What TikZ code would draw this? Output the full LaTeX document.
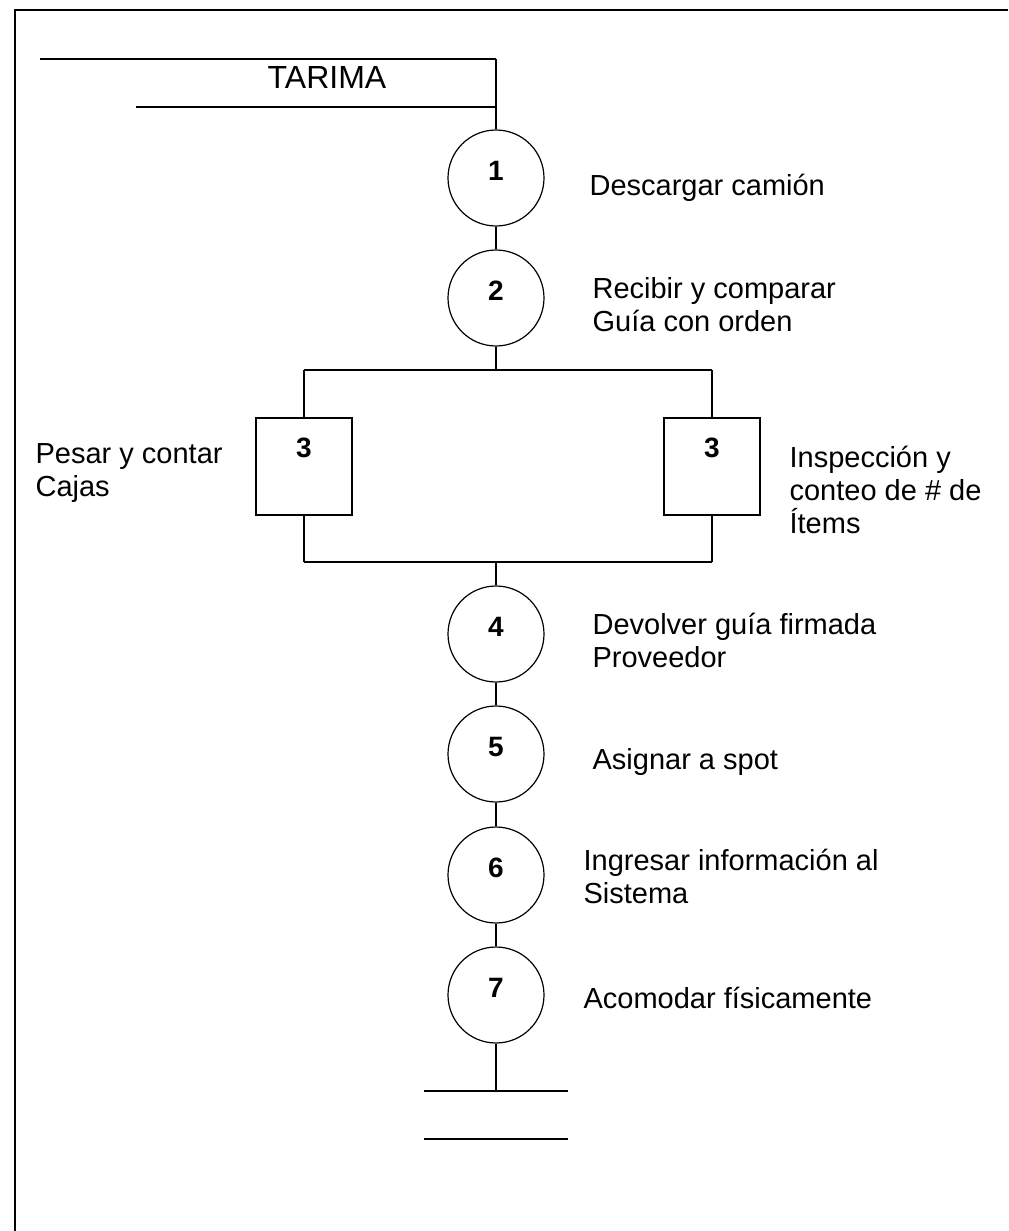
\documentclass[tikz,border=0pt]{standalone}
\usepackage{fontspec}
\setmainfont{Liberation Sans}

\begin{document}
\begin{tikzpicture}[x=0.5pt, y=-0.5pt, line width=0.6pt,
    paso/.style={draw, circle, minimum size=48pt, inner sep=0pt,
        font=\fontsize{14}{16}\selectfont\bfseries, text height=10pt, text depth=7.5pt},
    revision/.style={draw, rectangle, minimum width=48pt, minimum height=48.5pt, inner sep=0pt,
        font=\fontsize{14}{16}\selectfont\bfseries, text height=10pt, text depth=19.5pt},
    texto/.style={anchor=base west, inner sep=0pt, align=left,
        font=\fontsize{14.5}{16.5}\selectfont}]
                \useasboundingbox (0,0) rectangle (1008,1231);
                % Marco de la hoja
                \draw[line width=0.9pt] (15,1231) -- (15,10) -- (1008,10);

                % Tarima de entrada
                \coordinate (tarimaA) at (40,59);
                \coordinate (tarimaB) at (496,59);
                \coordinate (tarimaC) at (136,107);
                \coordinate (tarimaD) at (496,107);
                \node[font=\fontsize{16}{19}\selectfont] (tarima) at (327,77) {TARIMA};
                \draw (tarimaA) -- (tarimaB);
                \draw (tarimaC) -- (tarimaD);

                % Pasos del proceso
                \node[paso] (paso1) at (496,178) {1};
                \node[paso] (paso2) at (496,298) {2};
                \node[revision] (pesar) at (304,466.5) {3};
                \node[revision] (inspec) at (712,466.5) {3};
                \node[paso] (paso4) at (496,634) {4};
                \node[paso] (paso5) at (496,754) {5};
                \node[paso] (paso6) at (496,875) {6};
                \node[paso] (paso7) at (496,995) {7};

                % Bifurcacion y union
                \coordinate (split) at (496,370);
                \coordinate (splitL) at (304,370);
                \coordinate (splitR) at (712,370);
                \coordinate (join) at (496,562);
                \coordinate (joinL) at (304,562);
                \coordinate (joinR) at (712,562);

                % Almacen de salida
                \coordinate (almacen) at (496,1091);
                \coordinate (almacenA) at (424,1091);
                \coordinate (almacenB) at (568,1091);
                \coordinate (almacenC) at (424,1139);
                \coordinate (almacenD) at (568,1139);

                \draw (tarimaB) -- (paso1);
                \draw (paso1) -- (paso2);
                \draw (paso2) -- (split);
                \draw (splitL) -- (splitR);
                \draw (splitL) -- (pesar);
                \draw (splitR) -- (inspec);
                \draw (pesar) -- (joinL);
                \draw (inspec) -- (joinR);
                \draw (joinL) -- (joinR);
                \draw (join) -- (paso4);
                \draw (paso4) -- (paso5);
                \draw (paso5) -- (paso6);
                \draw (paso6) -- (paso7);
                \draw (paso7) -- (almacen);
                \draw (almacenA) -- (almacenB);
                \draw (almacenC) -- (almacenD);

                % Descripciones (base = ultima linea)
                \node[texto] (txt1) at (589,195) {Descargar camión};
                \node[texto] (txt2) at (592,331) {Recibir y comparar\\Guía con orden};
                \node[texto] (txt3a) at (35,496) {Pesar y contar\\Cajas};
                \node[texto] (txt3b) at (789,533) {Inspección y\\conteo de \# de\\Ítems};
                \node[texto] (txt4) at (592,667) {Devolver guía firmada\\Proveedor};
                \node[texto] (txt5) at (592,769) {Asignar a spot};
                \node[texto] (txt6) at (583,903) {Ingresar información al\\Sistema};
                \node[texto] (txt7) at (583,1008) {Acomodar físicamente};
            \end{tikzpicture}
\end{document}
